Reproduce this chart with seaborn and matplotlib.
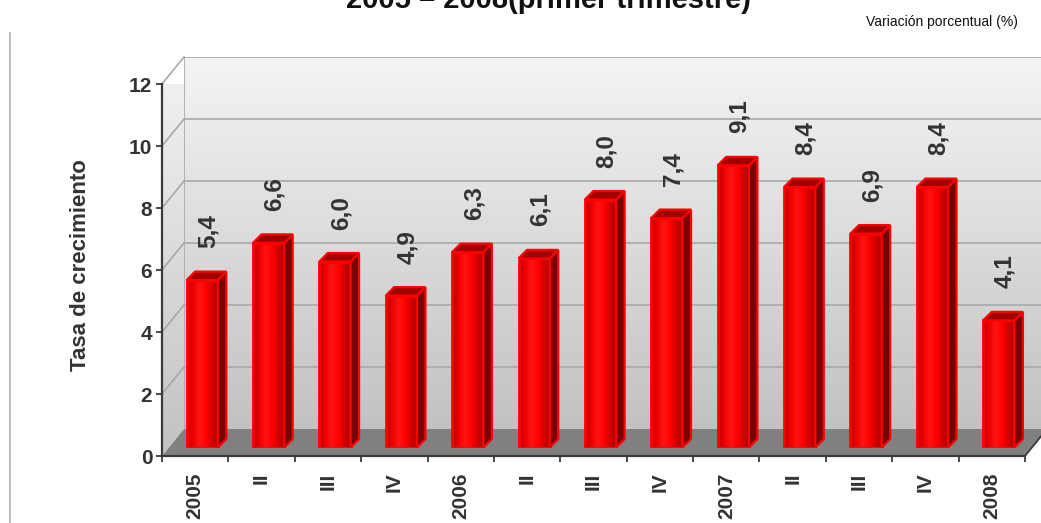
import numpy as np
import pandas as pd
import seaborn as sns
import matplotlib.pyplot as plt
from matplotlib.colors import LinearSegmentedColormap
from matplotlib.patches import Polygon
from matplotlib.lines import Line2D

# datos
periodos = ["2005-I", "2005-II", "2005-III", "2005-IV",
            "2006-I", "2006-II", "2006-III", "2006-IV",
            "2007-I", "2007-II", "2007-III", "2007-IV", "2008-I"]
etiquetas = ["2005", "II", "III", "IV", "2006", "II", "III", "IV",
             "2007", "II", "III", "IV", "2008"]
tasa = [5.4, 6.6, 6.0, 4.9, 6.3, 6.1, 8.0, 7.4, 9.1, 8.4, 6.9, 8.4, 4.1]

df = pd.DataFrame({"periodo": periodos, "tasa": tasa})

plt.rcParams["font.family"] = ["Liberation Sans", "DejaVu Sans"]

W, H = 1041, 523
fig = plt.figure(figsize=(W / 100, H / 100), dpi=100)


def px_rect(x0, y_top, x1, y_bot):
    # rectangulo en pixeles de imagen (y hacia abajo) -> coords de figura
    return [x0 / W, (H - y_bot) / H, (x1 - x0) / W, (y_bot - y_top) / H]


# plano frontal
FX0, FX1, FY0, FY12 = 162, 1025, 456, 84
# profundidad de paredes y barras (px)
WDX, WDY = 22, 27
BDX, BDY = 7, 8.5
BARD = 8.5
TXT = "#333333"

# pared de fondo
ax_wall = fig.add_axes(px_rect(FX0 + WDX, FY12 - WDY, W + 10, FY0 - WDY))
pared = LinearSegmentedColormap.from_list("pared", ["#c2c2c2", "#f4f4f4"])
grad_v = np.linspace(0, 1, 256).reshape(-1, 1)
ax_wall.imshow(grad_v, extent=[0, 1, 0, 12], origin="lower", aspect="auto", cmap=pared)
for v in range(2, 13, 2):
    ax_wall.axhline(v, color="#a8a8a8", lw=1.2)
ax_wall.axvline(0, color="#a8a8a8", lw=1.2)
ax_wall.set_xlim(0, 1)
ax_wall.set_ylim(0, 12)
ax_wall.axis("off")

# plano frontal: ejes, suelo y pared lateral
ax = fig.add_axes(px_rect(FX0, FY12, FX1, FY0))
ax.patch.set_visible(False)
ax.set_xlim(-0.5, 12.5)
ax.set_ylim(0, 12)
sx = (FX1 - FX0) / 13
sy = (FY0 - FY12) / 12
wdx, wdy = WDX / sx, WDY / sy

lado = Polygon([(-0.5, 0), (-0.5, 12), (-0.5 + wdx, 12 + wdy), (-0.5 + wdx, wdy)],
               closed=True, facecolor="none", edgecolor="none", clip_on=False)
ax.add_patch(lado)
im = ax.imshow(grad_v, extent=[-0.5, -0.5 + wdx, 0, 12 + wdy], origin="lower",
               aspect="auto", cmap=pared, zorder=0.5)
im.set_clip_path(lado)
im.set_clip_box(None)

suelo = Polygon([(-0.5, 0), (12.5, 0), (12.5 + wdx, wdy), (-0.5 + wdx, wdy)],
                closed=True, facecolor="#808080", edgecolor="none", clip_on=False, zorder=1)
ax.add_patch(suelo)
ax.add_line(Line2D([12.5, 12.5 + wdx], [0, wdy], color="#3a3a3a", lw=1.3, clip_on=False))
for v in range(2, 13, 2):
    ax.add_line(Line2D([-0.5, -0.5 + wdx], [v, v + wdy], color="#a8a8a8", lw=1.2,
                       clip_on=False, zorder=0.8))

ax.set_xlim(-0.5, 12.5)
ax.set_ylim(0, 12)
for s in ["top", "right"]:
    ax.spines[s].set_visible(False)
for s in ["left", "bottom"]:
    ax.spines[s].set_color("#3a3a3a")
    ax.spines[s].set_linewidth(1.6)
    ax.spines[s].set_zorder(5)

ax.set_yticks(range(0, 13, 2))
ax.set_yticklabels([str(v) for v in range(0, 13, 2)], fontsize=15, fontweight="bold", color=TXT)
ax.tick_params(axis="y", length=4, width=1.3, color="#3a3a3a", pad=3, left=True)
ax.set_xticks(range(13))
ax.set_xticklabels(etiquetas, rotation=90, fontsize=15, fontweight="bold", color=TXT, va="top")
ax.set_xticks(np.arange(-0.5, 13, 1), minor=True)
ax.tick_params(axis="x", which="major", length=0, pad=12)
ax.tick_params(axis="x", which="minor", length=4.5, width=1.3, color="#3a3a3a", bottom=True)

# barras
ax_b = fig.add_axes(px_rect(FX0 + BDX, FY12 - BDY, FX1 + BDX, FY0 - BDY))
sns.barplot(data=df, x="periodo", y="tasa", ax=ax_b, color="#ff0000", width=0.47,
            saturation=1, edgecolor="#ff0000", linewidth=2, zorder=3)
ax_b.set_xlim(-0.5, 12.5)
ax_b.set_ylim(0, 12)
ax_b.axis("off")

bdx, bdy = BARD / sx, BARD / sy
rojo = LinearSegmentedColormap.from_list(
    "rojo", ["#b80000", "#ee0000", "#ff1414", "#ff0000", "#d00000", "#a80000"])
grad_h = np.linspace(0, 1, 128).reshape(1, -1)

for p, v in zip(list(ax_b.patches), tasa):
    x0, w, h = p.get_x(), p.get_width(), p.get_height()
    p.set_facecolor("none")
    g = ax_b.imshow(grad_h, extent=[x0, x0 + w, 0, h], aspect="auto", cmap=rojo, zorder=2.9)
    g.set_clip_path(p)
    lat = Polygon([(x0 + w, 0), (x0 + w + bdx, bdy), (x0 + w + bdx, h + bdy), (x0 + w, h)],
                  closed=True, facecolor="#780000", edgecolor="#ff0000", lw=1.6, zorder=3.1)
    tapa = Polygon([(x0, h), (x0 + w, h), (x0 + w + bdx, h + bdy), (x0 + bdx, h + bdy)],
                   closed=True, facecolor="#a00000", edgecolor="#ff0000", lw=1.6, zorder=3.2)
    ax_b.add_patch(lat)
    ax_b.add_patch(tapa)
    ax_b.text(x0 + w / 2 + 6 / sx, h + 32 / sy, f"{v:.1f}".replace(".", ","),
              rotation=90, ha="center", va="bottom", fontsize=17.5, fontweight="bold", color=TXT)

ax_b.set_xlim(-0.5, 12.5)
ax_b.set_ylim(0, 12)

# textos
fig.text(549 / W, (H - 8.5) / H, "2005 – 2008(primer trimestre)", ha="center", va="baseline",
         fontsize=21, fontweight="bold", color="#111111")
fig.text(1018 / W, (H - 22) / H, "Variación porcentual (%)", ha="right", va="center",
         fontsize=10, color="#111111")
fig.text(80 / W, (H - 265) / H, "Tasa de crecimiento", rotation=90, ha="center", va="center",
         fontsize=16, fontweight="bold", color=TXT)
fig.add_artist(Line2D([10 / W, 10 / W], [0, (H - 33) / H], transform=fig.transFigure,
                      color="#c0c0c0", lw=1.5))

fig.savefig("out.png", dpi=100)
